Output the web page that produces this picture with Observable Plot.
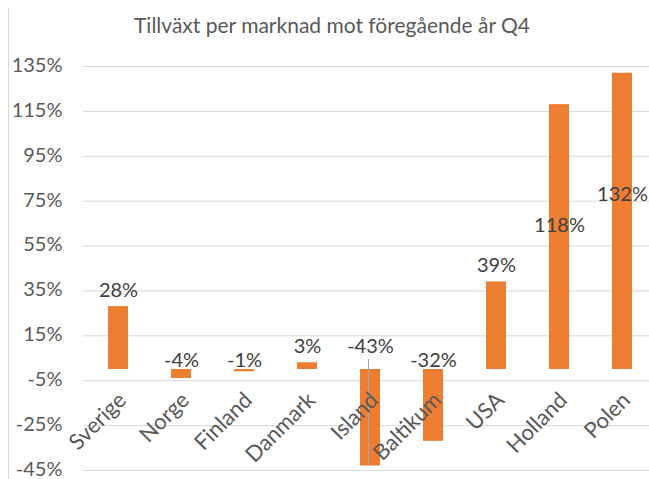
<!DOCTYPE html>
<html>
<head>
<meta charset="utf-8">
<script src="https://cdn.jsdelivr.net/npm/d3@7"></script>
<script src="https://cdn.jsdelivr.net/npm/@observablehq/plot@0.6"></script>
<style>
  html, body { margin: 0; padding: 0; background: #ffffff; overflow: hidden; }
  #wrap { position: relative; width: 649px; height: 479px; font-family: Lato, "Open Sans", sans-serif; }
  #title { position: absolute; left: 0; top: 12px; width: 664px; text-align: center; font-size: 21px; color: #595959; }
  #frame { position: absolute; left: 8px; top: 8px; width: 1px; height: 471px; background: #d9d9d9; }
  #chart { position: absolute; left: 0; top: 0; }
</style>
</head>
<body>
<div id="wrap">
  <div id="frame"></div>
  <div id="chart"></div>
  <div id="title">Tillväxt per marknad mot föregående år Q4</div>
</div>
<script>
const markets = ["Sverige", "Norge", "Finland", "Danmark", "Island", "Baltikum", "USA", "Holland", "Polen"];
const growth = [28, -4, -1, 3, -43, -32, 39, 118, 132];
const yTicks = [-45, -25, -5, 15, 35, 55, 75, 95, 115, 135];

const data = markets.map((name, i) => ({name, value: growth[i]}));
const fmt = v => `${v}%`;

// label placement rule (in data units / pixel offsets)
const labelY = d => d.value >= 100 ? d.value - 54 : d.value >= 0 ? d.value : 0;
const labelDy = d => d.value >= 100 ? 0 : d.value >= 0 ? -10 : (d.value < -40 ? -17 : -3);

const plot = Plot.plot({
  width: 649,
  height: 479,
  marginTop: 66,
  marginBottom: 9,
  marginLeft: 83,
  marginRight: -8,
  style: {fontFamily: "Lato, 'Open Sans', sans-serif", fontSize: "20px", color: "#595959", background: "transparent", overflow: "visible"},
  x: {domain: markets, paddingInner: 0.69, paddingOuter: 0.345, axis: null},
  y: {domain: [-45, 135], axis: null},
  marks: [
    Plot.ruleY(yTicks, {stroke: "#d9d9d9", strokeWidth: 1}),
    Plot.axisY(yTicks, {tickSize: 0, tickPadding: 21, tickFormat: fmt, fontSize: 20, fill: "#595959", label: null, dy: -1}),
    Plot.barY(data, {x: "name", y: "value", fill: "#ed7d31"}),
    Plot.ruleX(data.filter(d => d.value < -40), {x: "name", y1: 0, y2: "value", dx: -2, insetTop: -10, stroke: "#a6a6a6", strokeWidth: 1}),
    ...data.map(d => Plot.text([d], {
      x: "name",
      y: labelY,
      text: d => fmt(d.value),
      lineAnchor: d.value >= 100 ? "middle" : "bottom",
      dy: labelDy(d),
      fill: "#404040",
      fontSize: 20
    })),
    Plot.text(markets, {
      x: d => d,
      y: () => 0,
      text: d => d,
      rotate: -45,
      textAnchor: "end",
      lineAnchor: "top",
      dx: -2,
      dy: 21,
      fill: "#595959",
      fontSize: 22
    })
  ]
});
document.getElementById("chart").appendChild(plot);
</script>
</body>
</html>
